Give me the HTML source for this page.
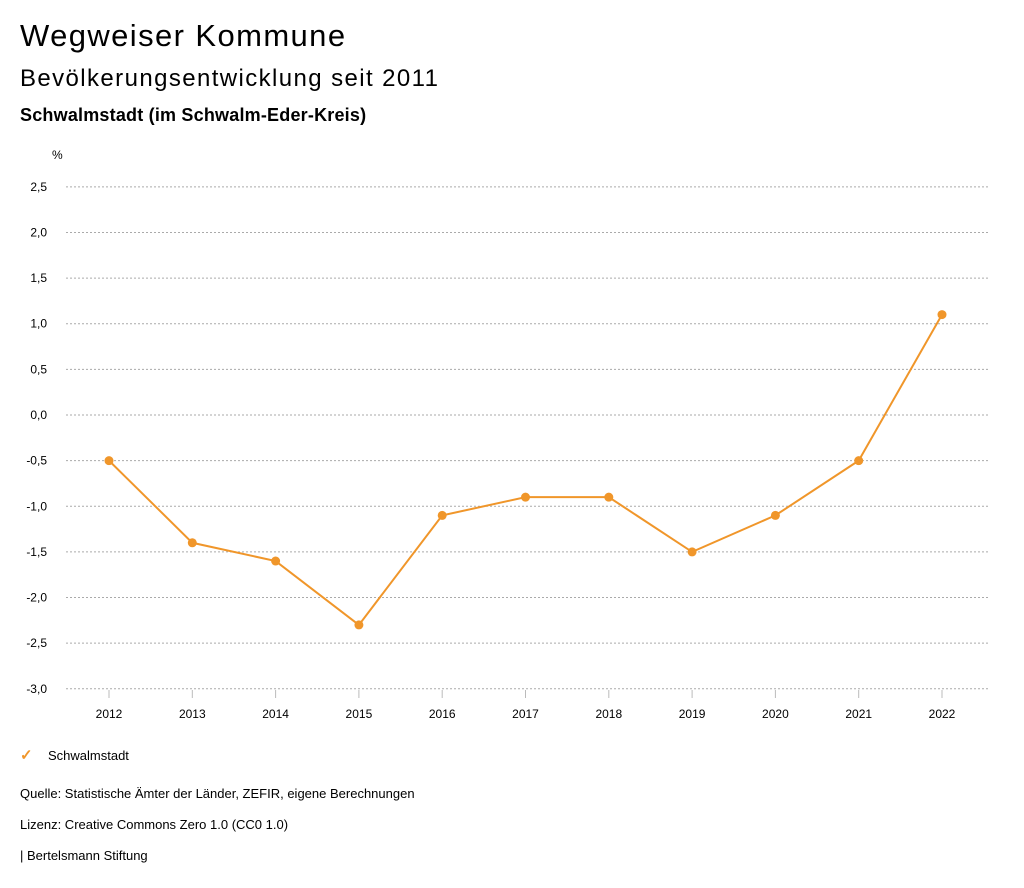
<!DOCTYPE html>
<html><head><meta charset="utf-8">
<style>
body{margin:0;background:#fff;font-family:"Liberation Sans",sans-serif;color:#000;}
#wrap{position:relative;width:1024px;height:888px;overflow:hidden;}
.t{position:absolute;left:20px;white-space:nowrap;}
</style></head>
<body><div id="wrap">
<div class="t" style="top:18px;font-size:31px;letter-spacing:1.4px;">Wegweiser Kommune</div>
<div class="t" style="top:65px;font-size:24px;letter-spacing:1.4px;">Bevölkerungsentwicklung seit 2011</div>
<div class="t" style="top:105px;font-size:18px;font-weight:600;letter-spacing:0.2px;">Schwalmstadt (im Schwalm-Eder-Kreis)</div>
<svg id="chart" width="1024" height="888" style="position:absolute;left:0;top:0" font-family="Liberation Sans, sans-serif"></svg>
<div class="t" style="top:746px;font-size:13px;"><span style="color:#f0962a;font-size:15px;font-weight:bold;display:inline-block;width:28px;">✓</span>Schwalmstadt</div>
<div class="t" style="top:786px;font-size:13px;">Quelle: Statistische Ämter der Länder, ZEFIR, eigene Berechnungen</div>
<div class="t" style="top:817px;font-size:13px;">Lizenz: Creative Commons Zero 1.0 (CC0 1.0)</div>
<div class="t" style="top:848px;font-size:13px;">| Bertelsmann Stiftung</div>
</div>
<script>
const years=[2012,2013,2014,2015,2016,2017,2018,2019,2020,2021,2022];
const values=[-0.5,-1.4,-1.6,-2.3,-1.1,-0.9,-0.9,-1.5,-1.1,-0.5,1.1];
const yTicks=[2.5,2.0,1.5,1.0,0.5,0.0,-0.5,-1.0,-1.5,-2.0,-2.5,-3.0];
const NS="http://www.w3.org/2000/svg";
const svg=document.getElementById('chart');
const y0=415,yPer=91.27,x0=109,xStep=83.3;
const ys=v=>y0-v*yPer, xs=i=>x0+i*xStep;
function mk(t,a){const e=document.createElementNS(NS,t);for(const k in a)e.setAttribute(k,a[k]);svg.appendChild(e);return e;}
const ax=mk('text',{x:52,y:159,'font-size':12});ax.textContent='%';


yTicks.forEach(v=>{
 const l=mk('line',{x1:66,x2:990,y1:ys(v),y2:ys(v),stroke:'#aaa','stroke-dasharray':'2,2','stroke-width':1});
 
 
 const t=mk('text',{x:47,y:ys(v)+4,'font-size':12,'text-anchor':'end'});
 t.textContent=v.toFixed(1).replace('.',',');
 
 
});
years.forEach((yr,i)=>{
 const l=mk('line',{x1:xs(i),x2:xs(i),y1:690,y2:698,stroke:'#bbb'});
 
 
 const t=mk('text',{x:xs(i),y:718,'font-size':12,'text-anchor':'middle'});
 t.textContent=yr;
 
 
});
const p=mk('polyline',{points:values.map((v,i)=>xs(i)+','+ys(v)).join(' '),fill:'none',stroke:'#f0962a','stroke-width':2});


values.forEach((v,i)=>{
 const c=mk('circle',{cx:xs(i),cy:ys(v),r:4.5,fill:'#f0962a'});
 
 
});
</script>
</body></html>
